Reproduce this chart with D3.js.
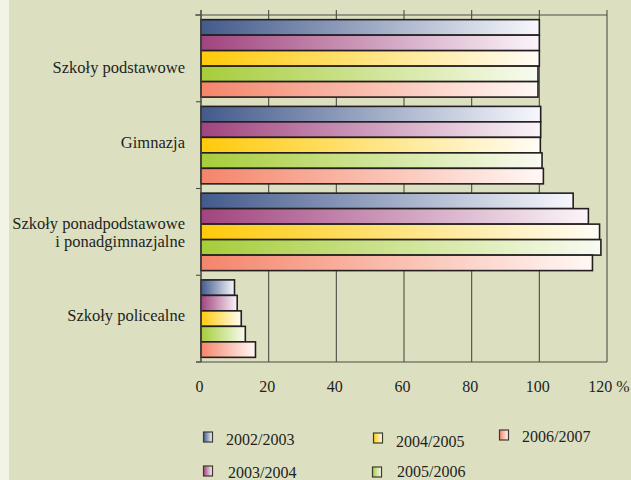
<!DOCTYPE html>
<html>
<head>
<meta charset="utf-8">
<script src="https://cdn.jsdelivr.net/npm/d3@7"></script>
<style>
html,body{margin:0;padding:0;background:#dde0c0;}
svg{display:block;}
</style>
</head>
<body>
<script>
// ---- data ----
const categories = ["Szkoły podstawowe", "Gimnazja", "Szkoły ponadpodstawowe\ni ponadgimnazjalne", "Szkoły policealne"];
const seriesNames = ["2002/2003", "2003/2004", "2004/2005", "2005/2006", "2006/2007"];
const v2002 = [100, 100.4, 110.0, 9.9];
const v2003 = [100, 100.4, 114.5, 10.7];
const v2004 = [100, 100.3, 117.8, 11.9];
const v2005 = [99.6, 100.8, 118.2, 13.1];
const v2006 = [99.6, 101.2, 115.7, 16.1];
const xTicks = [0, 20, 40, 60, 80, 100, 120];
const seriesValues = [v2002, v2003, v2004, v2005, v2006];

// ---- styles ----
const startColors = ["#435a8b", "#a0447f", "#ffca0a", "#a6cd3a", "#f4856a"];
const endColors   = ["#f7f8fd", "#fbf5f9", "#fffdf6", "#f8fbf1", "#fff8f5"];
const FONT = "'Liberation Serif', 'Times New Roman', Times, 'DejaVu Serif', serif";

const W = 631, H = 480;
const svg = d3.select("body").append("svg").attr("width", W).attr("height", H)
  .attr("font-family", FONT);
svg.append("rect").attr("width", W).attr("height", H).attr("fill", "#dde0c0");
svg.append("rect").attr("width", 9).attr("height", H).attr("fill", "#f2f4e6");

const defs = svg.append("defs");
seriesNames.forEach((s, i) => {
  const g = defs.append("linearGradient").attr("id", "g" + i)
    .attr("x1", "0%").attr("x2", "100%").attr("y1", "0%").attr("y2", "0%");
  g.append("stop").attr("offset", "0%").attr("stop-color", startColors[i]);
  g.append("stop").attr("offset", "100%").attr("stop-color", endColors[i]);
});

const x = d3.scaleLinear().domain([0, 120]).range([201, 607]);
const y0 = d3.scaleBand().domain(categories).range([15, 362]).padding(0);
const y1 = d3.scaleBand().domain(seriesNames).range([0, y0.bandwidth()]).paddingInner(0).paddingOuter(0.3);

const gridColor = "#4d4d45";
svg.append("g").selectAll("line").data(xTicks).join("line")
  .attr("x1", d => x(d)).attr("x2", d => x(d))
  .attr("y1", 10).attr("y2", 362)
  .attr("stroke", gridColor).attr("stroke-width", 1.1);
svg.append("line").attr("x1", 195).attr("x2", x(120)).attr("y1", 15).attr("y2", 15)
  .attr("stroke", gridColor).attr("stroke-width", 1.1);
svg.append("line").attr("x1", 196).attr("x2", x(120)).attr("y1", 362).attr("y2", 362)
  .attr("stroke", gridColor).attr("stroke-width", 1.1);
const catBounds = categories.map(c => y0(c)).concat([y0.range()[1]]);
svg.append("g").selectAll("line").data(catBounds).join("line")
  .attr("x1", 196).attr("x2", 201).attr("y1", d => d).attr("y2", d => d)
  .attr("stroke", gridColor).attr("stroke-width", 1.1);

// bars
const bars = svg.append("g");
categories.forEach((c, ci) => {
  seriesNames.forEach((s, si) => {
    bars.append("rect")
      .attr("x", x(0))
      .attr("y", y0(c) + y1(s))
      .attr("width", x(seriesValues[si][ci]) - x(0))
      .attr("height", y1.bandwidth())
      .attr("fill", "url(#g" + si + ")")
      .attr("stroke", "#231f20").attr("stroke-width", 1.6);
  });
});
svg.append("line").attr("x1", x(0)).attr("x2", x(0)).attr("y1", 10).attr("y2", 362)
  .attr("stroke", gridColor).attr("stroke-width", 1.1);

// category labels
const labelShift = [8.5, -2.5, 0, -3.5];
categories.forEach((c, ci) => {
  const lines = c.split("\n");
  const cy = y0(c) + y0.bandwidth() / 2 + labelShift[ci];
  const lh = 18;
  const t = svg.append("text").attr("text-anchor", "end").attr("font-size", 16.5).attr("fill", "#231f20");
  lines.forEach((ln, li) => {
    t.append("tspan").attr("x", 185)
      .attr("y", cy + (li - (lines.length - 1) / 2) * lh)
      .attr("dy", "0.35em").text(ln);
  });
});

// x tick labels
const lastTick = xTicks[xTicks.length - 1];
svg.append("g").selectAll("text").data(xTicks).join("text")
  .attr("x", d => x(d) + (d === lastTick ? 2 : -1.5)).attr("y", 386).attr("dy", "0.35em")
  .attr("text-anchor", "middle").attr("font-size", 16).attr("fill", "#231f20")
  .text(d => d === lastTick ? d + " %" : d);

// legend
const legendPos = [[208, 437], [208, 471], [378, 438], [377, 472], [504, 435]];
const legendTextDy = [2, 1, 3, -1, 1];
seriesNames.forEach((s, i) => {
  const [lx, ly] = legendPos[i];
  svg.append("rect").attr("x", lx - 4.5).attr("y", ly - 5).attr("width", 9).attr("height", 10)
    .attr("fill", "url(#g" + i + ")").attr("stroke", "#3a3a35").attr("stroke-width", 1.2);
  svg.append("text").attr("x", lx + 18 + (i === 1 || i === 3 ? 2 : 0)).attr("y", ly + legendTextDy[i])
    .attr("dy", "0.35em").attr("font-size", 16).attr("fill", "#231f20").text(s);
});
</script>
</body>
</html>
